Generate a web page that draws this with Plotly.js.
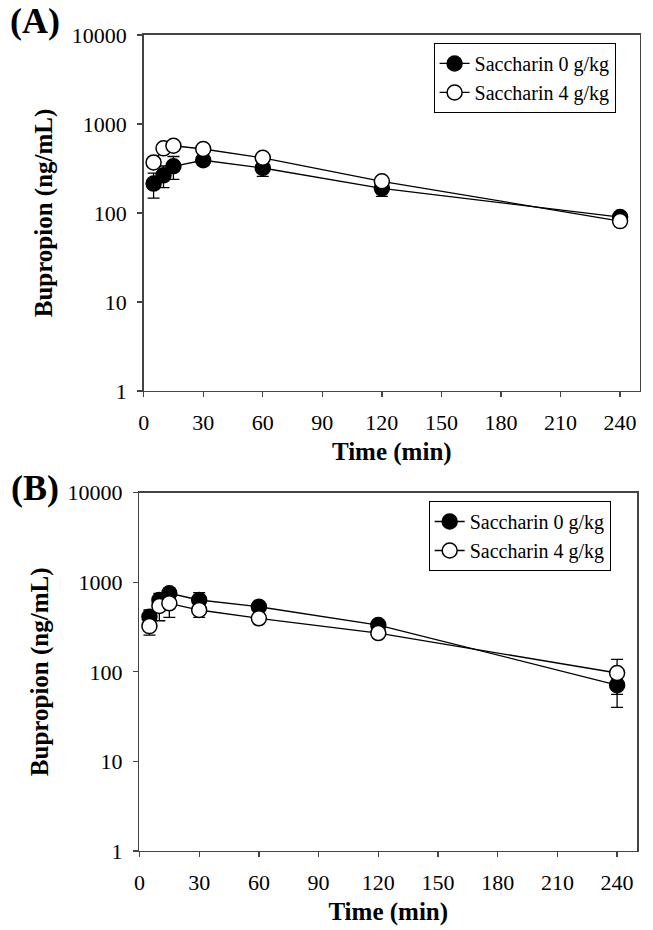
<!DOCTYPE html>
<html>
<head>
<meta charset="utf-8">
<script src="https://cdn.plot.ly/plotly-3.0.1.min.js"></script>
<style>html,body{margin:0;padding:0;background:#fff;}#chart{width:653px;height:930px;}</style>
</head>
<body>
<div id="chart"></div>
<script>
// Data
var timeMin = [5, 10, 15, 30, 60, 120, 240];

var panelA_sac0 = [214, 265, 335, 391, 320, 189, 90];
var panelA_sac0_sd = [67, 72, 96, 45, 62, 35, 10];
var panelA_sac4 = [370, 532, 569, 523, 417, 227, 81];
var panelA_sac4_sd = [40, 50, 60, 50, 40, 25, 8];

var panelB_sac0 = [412, 634, 753, 634, 533, 333, 71];
var panelB_sac0_sd = [78, 119, 105, 131, 40, 30, 31];
var panelB_sac4 = [324, 543, 582, 490, 396, 271, 97];
var panelB_sac4_sd = [67, 171, 177, 85, 30, 20, 41];

var seriesNames = ["Saccharin 0 g/kg", "Saccharin 4 g/kg"];
var xTicks = [0, 30, 60, 90, 120, 150, 180, 210, 240];
var yTicks = [1, 10, 100, 1000, 10000];
var yTickText = ["1", "10", "100", "1000", "10000"];

var serif = "Liberation Serif, Times New Roman, serif";

function trace(x, y, sd, name, filled, xa, ya, leg) {
  return {
    type: "scatter", mode: "lines+markers",
    x: x, y: y, name: name,
    xaxis: xa, yaxis: ya, legend: leg,
    line: {color: "black", width: 1.3},
    marker: {size: 15, symbol: "circle", color: filled ? "black" : "white",
             line: {color: "black", width: 1.5}},
    error_y: {type: "data", array: sd, symmetric: true, visible: true,
              color: "black", thickness: 1.3, width: 6}
  };
}

var data = [
  trace(timeMin, panelA_sac0, panelA_sac0_sd, seriesNames[0], true, "x", "y", "legend"),
  trace(timeMin, panelA_sac4, panelA_sac4_sd, seriesNames[1], false, "x", "y", "legend"),
  trace(timeMin, panelB_sac0, panelB_sac0_sd, seriesNames[0], true, "x2", "y2", "legend2"),
  trace(timeMin, panelB_sac4, panelB_sac4_sd, seriesNames[1], false, "x2", "y2", "legend2")
];

function xAxis(domain, anchor) {
  return {
    domain: domain, anchor: anchor, range: [0, 250],
    tickmode: "array", tickvals: xTicks,
    ticks: "outside", ticklen: 5, tickwidth: 1.3, tickcolor: "#444",
    showline: true, linecolor: "#444", linewidth: 1.5, mirror: true,
    showgrid: false, zeroline: false,
    tickfont: {family: serif, size: 22, color: "black"},
    ticklabelstandoff: 6,
    automargin: false,
    title: {text: "<b>Time (min)</b>", font: {family: serif, size: 25, color: "black"}, standoff: 8}
  };
}
function yAxis(domain, anchor) {
  return {
    domain: domain, anchor: anchor, type: "log", range: [0, 4],
    tickmode: "array", tickvals: yTicks, ticktext: yTickText,
    ticks: "outside", ticklen: 5, tickwidth: 1.3, tickcolor: "#444",
    showline: true, linecolor: "#444", linewidth: 1.5, mirror: true,
    showgrid: false, zeroline: false,
    tickfont: {family: serif, size: 22, color: "black"},
    ticklabelstandoff: 6,
    automargin: false,
    title: {text: "<b>Bupropion (ng/mL)</b>", font: {family: serif, size: 25, color: "black"}, standoff: 12}
  };
}

var legendStyle = function (x, y) {
  return {
    x: x, y: y, xanchor: "left", yanchor: "top",
    bgcolor: "white", bordercolor: "black", borderwidth: 1,
    font: {family: serif, size: 20, color: "black"},
    itemwidth: 30, traceorder: "normal"
  };
};

var layout = {
  width: 653, height: 930,
  margin: {l: 0, r: 0, t: 0, b: 0, autoexpand: false},
  paper_bgcolor: "white", plot_bgcolor: "white",
  showlegend: true,
  xaxis: xAxis([0.2200, 0.9800], "y"),
  yaxis: yAxis([0.5796, 0.9624], "x"),
  xaxis2: xAxis([0.2136, 0.9755], "y2"),
  yaxis2: yAxis([0.0850, 0.4702], "x2"),
  legend: legendStyle(0.6640, 0.9538),
  legend2: legendStyle(0.6565, 0.4613),
  annotations: [
    {text: "<b>(A)</b>", xref: "paper", yref: "paper", x: 35 / 653, y: 1 - 21 / 930,
     xanchor: "center", yanchor: "middle", showarrow: false,
     font: {family: serif, size: 36, color: "black"}},
    {text: "<b>(B)</b>", xref: "paper", yref: "paper", x: 35 / 653, y: 1 - 488 / 930,
     xanchor: "center", yanchor: "middle", showarrow: false,
     font: {family: serif, size: 36, color: "black"}}
  ]
};

Plotly.newPlot("chart", data, layout, {displayModeBar: false, staticPlot: true});
</script>
</body>
</html>
